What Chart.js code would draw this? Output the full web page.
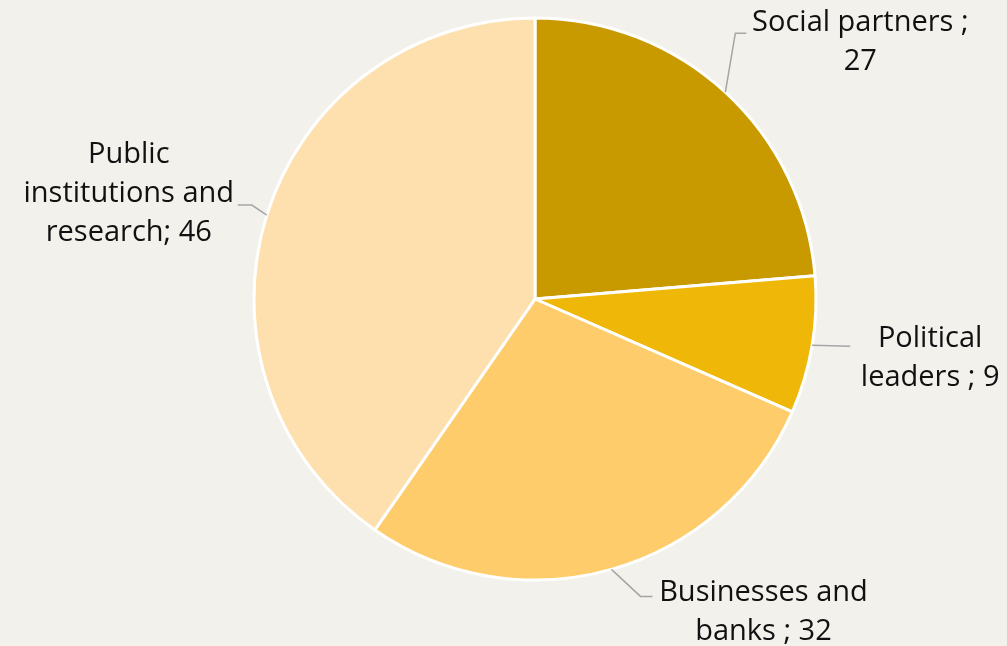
<!DOCTYPE html>
<html>
<head>
<meta charset="utf-8">
<script src="https://cdn.jsdelivr.net/npm/chart.js@4"></script>
<style>
  html, body { margin: 0; padding: 0; background: #f3f1ec; }
  #wrap { width: 1007px; height: 646px; position: relative; }
</style>
</head>
<body>
<div id="wrap"><canvas id="pieChart" width="1007" height="646"></canvas></div>
<script>
// --- Data ---
const categories = ['Social partners', 'Political leaders', 'Businesses and banks', 'Public institutions and research'];
const values = [27, 9, 32, 46];
const labelLines = [
    ['Social partners ;', '27'],
    ['Political', 'leaders ; 9'],
    ['Businesses and', 'banks ; 32'],
    ['Public', 'institutions and', 'research; 46']
];
const sliceColors = ['#c99a00', '#efb808', '#fecc6a', '#fde0ae'];

// label layout, offsets from the slice's outer mid point
const labelLayout = [
    { path: [[10, -59], [21, -59]], tx: 135, ty: -61 },
    { path: [[38, 1]], tx: 118, ty: 2 },
    { path: [[29, 27], [41, 27]], tx: 152, ty: 32 },
    { path: [[-15, -10], [-29, -10]], tx: -138, ty: -52 }
];

const calloutPlugin = {
    id: 'callouts',
    afterDatasetsDraw(chart) {
        const ctx = chart.ctx;
        const meta = chart.getDatasetMeta(0);
        meta.data.forEach((arc, i) => {
            const p = arc.getProps(['x', 'y', 'startAngle', 'endAngle', 'outerRadius'], true);
            const mid = (p.startAngle + p.endAngle) / 2;
            const ax = p.x + Math.cos(mid) * p.outerRadius;
            const ay = p.y + Math.sin(mid) * p.outerRadius;
            const lay = labelLayout[i];

            ctx.save();
            ctx.strokeStyle = '#a6a6a6';
            ctx.lineWidth = 1.5;
            ctx.beginPath();
            ctx.moveTo(ax, ay);
            lay.path.forEach(pt => ctx.lineTo(ax + pt[0], ay + pt[1]));
            ctx.stroke();

            ctx.fillStyle = '#111111';
            ctx.font = '29px "Open Sans"';
            ctx.textAlign = 'center';
            ctx.textBaseline = 'alphabetic';
            labelLines[i].forEach((line, k) => {
                ctx.fillText(line, ax + lay.tx, ay + lay.ty + k * 39);
            });
            ctx.restore();
        });
    }
};

const ctx = document.getElementById('pieChart').getContext('2d');
new Chart(ctx, {
    type: 'pie',
    data: {
        labels: categories,
        datasets: [{
            data: values,
            backgroundColor: sliceColors,
            borderColor: '#ffffff',
            borderWidth: 3,
            hoverOffset: 0
        }]
    },
    options: {
        responsive: false,
        animation: false,
        radius: 281,
        layout: {
            padding: { top: 18, bottom: 66, left: 254, right: 191 }
        },
        plugins: {
            legend: { display: false },
            tooltip: { enabled: false }
        }
    },
    plugins: [calloutPlugin]
});
</script>
</body>
</html>
